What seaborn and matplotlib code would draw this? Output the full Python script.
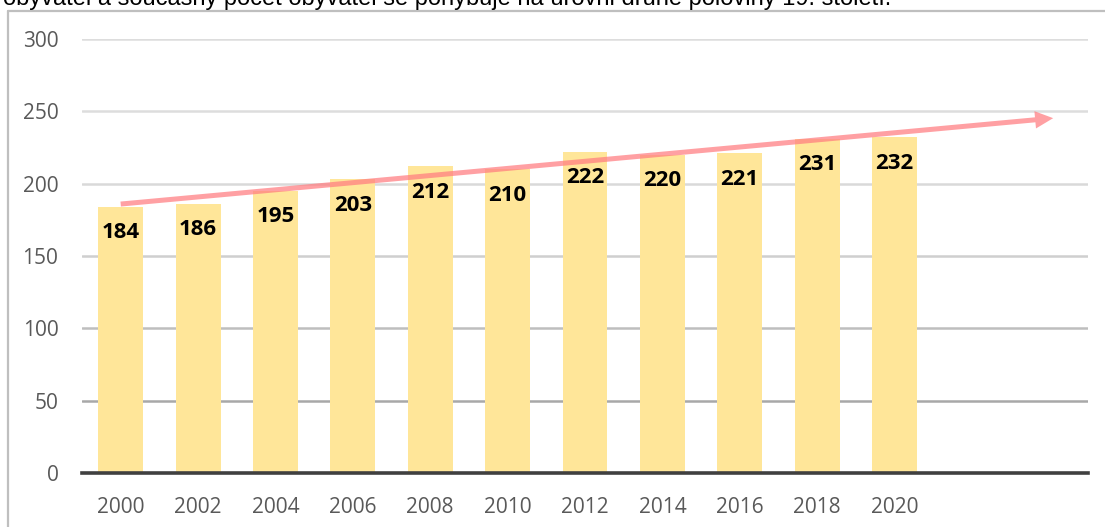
import numpy as np
import pandas as pd
import matplotlib.pyplot as plt
import seaborn as sns
from matplotlib.lines import Line2D

# ------------------------------------------------------------
# data
# ------------------------------------------------------------
years = ["2000", "2002", "2004", "2006", "2008", "2010",
         "2012", "2014", "2016", "2018", "2020"]
values = [184, 186, 195, 203, 212, 210, 222, 220, 221, 231, 232]
y_ticks = [0, 50, 100, 150, 200, 250, 300]
top_text = ("obyvatel a současný počet obyvatel se pohybuje na úrovni "
            "druhé poloviny 19. století.")

# gridlines get darker towards the bottom in the original screenshot
grid_colors = ["#A0A0A0", "#A8A8A8", "#BEBEBE", "#CFCFCF", "#D9D9D9", "#DDDDDD", "#DDDDDD"]

df = pd.DataFrame({"rok": years, "pocet": values})

sns.set_style("white")
plt.rcParams["font.family"] = ["Open Sans", "DejaVu Sans"]

fig = plt.figure(figsize=(11.05, 5.27), dpi=100)
ax = fig.add_axes([82 / 1105, 1 - 473 / 527, (1088 - 82) / 1105, (473 - 39) / 527])

ax.set_axisbelow(True)
for t, c in zip(y_ticks, grid_colors):
    ax.axhline(t, color=c, lw=1.8, zorder=1)

sns.barplot(data=df, x="rok", y="pocet", color="#FFE699", saturation=1,
            width=0.58, edgecolor="none", ax=ax, zorder=2)

# two empty slots on the right (as in the original Excel chart)
ax.set_xlim(-0.5, len(years) + 1.5)
ax.set_ylim(0, 300)
ax.set_yticks(y_ticks)
ax.set_xlabel("")
ax.set_ylabel("")

# trend arrow
k, q = np.polyfit(np.arange(len(values)), values, 1)
x0, x1 = 0, len(years) + 1.05
ax.annotate("", xy=(x1, k * x1 + q), xytext=(x0, k * x0 + q),
            arrowprops=dict(arrowstyle="simple,head_length=1.3,head_width=1.25,tail_width=0.36",
                            mutation_scale=10, color="#FF7C80", alpha=0.72, lw=0,
                            shrinkA=0, shrinkB=0),
            zorder=3)

# value labels inside bars
for i, v in enumerate(values):
    ax.text(i, v - 18, str(v), ha="center", va="center", fontsize=16,
            fontweight="bold", color="black", zorder=4)

sns.despine(ax=ax, left=True, top=True, right=True)
ax.spines["bottom"].set_color("#404040")
ax.spines["bottom"].set_linewidth(2.6)
ax.spines["bottom"].set_zorder(5)
ax.tick_params(axis="both", length=0, labelsize=15, labelcolor="#595959")
ax.tick_params(axis="y", pad=17)
ax.tick_params(axis="x", pad=17)

# chart frame + cut-off text above
fig.add_artist(Line2D([8 / 1105, 8 / 1105], [0, 1 - 11 / 527], color="#BFBFBF", lw=1.6))
fig.add_artist(Line2D([8 / 1105, 1], [1 - 11 / 527, 1 - 11 / 527], color="#BFBFBF", lw=1.6))
fig.text(3 / 1105, 1 - 5 / 527, top_text, ha="left", va="baseline",
         fontsize=17, family="Liberation Sans", color="black")

plt.savefig("out.png", dpi=100)
